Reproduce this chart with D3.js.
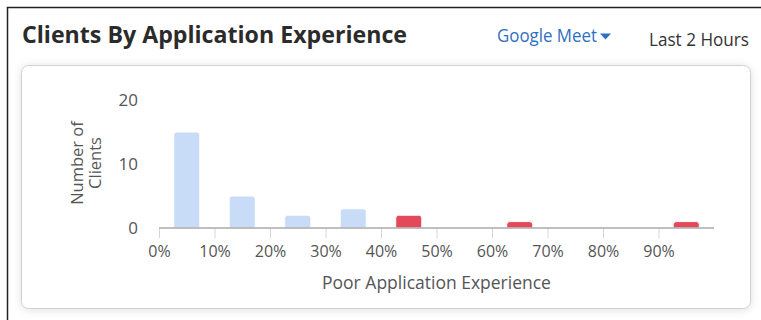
<!DOCTYPE html>
<html>
<head>
<meta charset="utf-8">
<script src="https://cdn.jsdelivr.net/npm/d3@7"></script>
<style>
  html, body { margin: 0; padding: 0; background: #fff; }
  svg { display: block; font-family: "Open Sans", "Noto Sans", sans-serif; }
</style>
</head>
<body>
<svg id="chart" width="761" height="320"></svg>
<script>
// Histogram bins (lower edge, in %) and client counts per bin
const binStarts = [0, 10, 20, 30, 40, 50, 60, 70, 80, 90];
const binWidth = 10;
const clientCounts = [15, 5, 2, 3, 2, 0, 1, 0, 0, 1];
const poorThreshold = 40;           // bins at or above this are flagged as poor
const xTicks = [0, 10, 20, 30, 40, 50, 60, 70, 80, 90];
const yTicks = [0, 10, 20];

const title = "Clients By Application Experience";
const appName = "Google Meet";
const timeRange = "Last 2 Hours";
const yTitleLines = ["Number of", "Clients"];
const xTitle = "Poor Application Experience";

const svg = d3.select("#chart");

// drop shadow for the card
const defs = svg.append("defs");
const f = defs.append("filter").attr("id", "cardShadow")
  .attr("x", "-5%").attr("y", "-10%").attr("width", "110%").attr("height", "120%");
f.append("feDropShadow").attr("dx", 0).attr("dy", 1).attr("stdDeviation", 4.5)
  .attr("flood-color", "#000").attr("flood-opacity", 0.12);

// outer panel edges
svg.append("path").attr("d", "M7.5,320 V7.5 H761")
  .attr("fill", "none").attr("stroke", "#222").attr("stroke-width", 1.5);

// header
function fitText(sel, width) {
  sel.attr("textLength", width).attr("lengthAdjust", "spacingAndGlyphs");
}
svg.append("text").attr("x", 22).attr("y", 43)
  .attr("font-size", 24).attr("font-weight", 700).attr("fill", "#2b2b2b")
  .text(title).call(fitText, 385);
svg.append("text").attr("x", 497).attr("y", 42)
  .attr("font-size", 18).attr("fill", "#2f6fbf")
  .text(appName).call(fitText, 100);
svg.append("path").attr("d", "M600,33.5 L611,33.5 L605.5,39.5 Z").attr("fill", "#2f6fbf");
svg.append("text").attr("x", 649).attr("y", 46)
  .attr("font-size", 18).attr("fill", "#333")
  .text(timeRange).call(fitText, 100);

// card
svg.append("rect").attr("x", 21.5).attr("y", 65.5).attr("width", 729).attr("height", 243)
  .attr("rx", 7).attr("fill", "#fff").attr("stroke", "#d0d0d0")
  .attr("filter", "url(#cardShadow)");

// scales
const x = d3.scaleLinear().domain([0, 100]).range([159, 714]);
const y = d3.scaleLinear().domain([0, 20]).range([228, 100]);

// y tick labels
svg.append("g").selectAll("text").data(yTicks).join("text")
  .attr("x", 138).attr("y", d => y(d)).attr("dy", "0.35em")
  .attr("text-anchor", "end").attr("font-size", 17).attr("fill", "#555")
  .text(d => d);

// y axis title
const yt = svg.append("text")
  .attr("transform", `translate(${87},${163}) rotate(-90)`)
  .attr("text-anchor", "middle").attr("font-size", 16.5).attr("fill", "#555");
yTitleLines.forEach((l, i) => {
  yt.append("tspan").attr("x", 0).attr("y", (i - 0.5) * 18 + 5).text(l);
});

// bars
const bw = (x(binWidth) - x(0)) * 0.47;
const r = 3;
svg.append("g").selectAll("path").data(binStarts.map((s, i) => ({ s, v: clientCounts[i] })).filter(d => d.v > 0))
  .join("path")
  .attr("d", d => {
    const cx = x(d.s + binWidth / 2);
    const x0 = cx - bw / 2, x1 = cx + bw / 2;
    const y0 = y(0), y1 = y(d.v);
    return `M${x0},${y0} V${y1 + r} Q${x0},${y1} ${x0 + r},${y1} H${x1 - r} Q${x1},${y1} ${x1},${y1 + r} V${y0} Z`;
  })
  .attr("fill", d => d.s >= poorThreshold ? "#e4485b" : "#c9dcf7")
  .attr("stroke", "#fff").attr("stroke-width", 1);

// x axis
const xAxis = svg.append("g").attr("transform", `translate(0,${y(0)})`)
  .call(d3.axisBottom(x).tickValues(xTicks).tickFormat(d => d + "%").tickSize(10).tickPadding(8));
xAxis.select(".domain").remove();
xAxis.selectAll(".tick line").attr("stroke", "#ccd6eb");
xAxis.selectAll(".tick text").attr("font-size", 16).attr("fill", "#555")
  .attr("font-family", "\"Open Sans\", sans-serif");
svg.append("line").attr("x1", x(0)).attr("x2", x(100)).attr("y1", y(0)).attr("y2", y(0))
  .attr("stroke", "#aaa").attr("stroke-width", 1.5);

// x axis title
svg.append("text").attr("x", (x(0) + x(100)) / 2).attr("y", 289)
  .attr("text-anchor", "middle").attr("font-size", 17.5).attr("fill", "#555")
  .text(xTitle);
</script>
</body>
</html>
